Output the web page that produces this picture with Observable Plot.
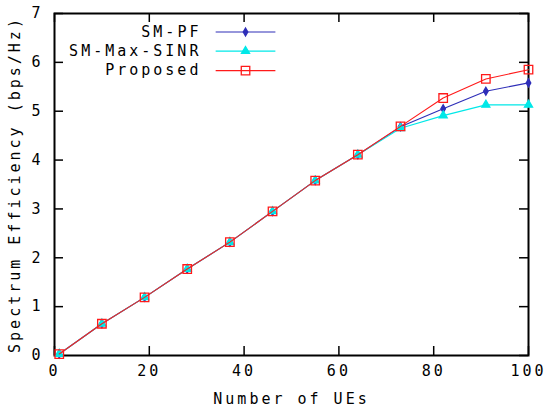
<!DOCTYPE html>
<html>
<head>
<meta charset="utf-8">
<script src="https://cdn.jsdelivr.net/npm/d3@7"></script>
<script src="https://cdn.jsdelivr.net/npm/@observablehq/plot@0.6"></script>
<style>
  html, body { margin: 0; padding: 0; background: #fff; }
</style>
</head>
<body>
<div id="chart"></div>
<script>
const ues = [1, 10, 19, 28, 37, 46, 55, 64, 73, 82, 91, 100];
const smPF      = [0.03, 0.65, 1.19, 1.77, 2.32, 2.95, 3.58, 4.11, 4.68, 5.05, 5.41, 5.58];
const smMaxSINR = [0.03, 0.65, 1.19, 1.77, 2.32, 2.95, 3.58, 4.11, 4.65, 4.91, 5.13, 5.13];
const proposed  = [0.03, 0.65, 1.19, 1.77, 2.32, 2.95, 3.58, 4.11, 4.69, 5.27, 5.66, 5.85];
const seriesNames = ["SM-PF", "SM-Max-SINR", "Proposed"];
const xTicks = [0, 20, 40, 60, 80, 100];
const yTicks = [0, 1, 2, 3, 4, 5, 6, 7];
const xLabel = "Number of UEs";
const yLabel = "Spectrum Efficiency (bps/Hz)";

const colors = {"SM-PF": "#2e2eb8", "SM-Max-SINR": "#00e8e8", "Proposed": "#ff1a1a"};
const symbols = {"SM-PF": "diamond", "SM-Max-SINR": "triangle", "Proposed": "square"};
const sizes = {"SM-PF": 2.4, "SM-Max-SINR": 3.0, "Proposed": 4.8};
const fills = {"SM-PF": "#2e2eb8", "SM-Max-SINR": "#00e8e8", "Proposed": "none"};

const values = [smPF, smMaxSINR, proposed];
const data = [];
seriesNames.forEach((s, i) => ues.forEach((u, j) => data.push({series: s, x: u, y: values[i][j]})));

// legend rows placed in data space
const legendY = [6.62, 6.23, 5.83];
const legend = seriesNames.map((s, i) => ({series: s, y: legendY[i], xt: 31.0, x1: 34.0, x2: 46.6, xm: 40.3}));

const W = 553, H = 416, mL = 54, mR = 25, mT = 13, mB = 61;
const pw = W - mL - mR, ph = H - mT - mB, tick = 9;

const font = "font-family: 'DejaVu Sans Mono', monospace; font-size: 15px; letter-spacing: 3px;";

const marks = [
  // ticks on all four sides, inward
  Plot.tickX(xTicks, {x: d => d, insetTop: ph - tick, stroke: "#000", strokeWidth: 1.5}),
  Plot.tickX(xTicks, {x: d => d, insetBottom: ph - tick, stroke: "#000", strokeWidth: 1.5}),
  Plot.tickY(yTicks, {y: d => d, insetRight: pw - tick, stroke: "#000", strokeWidth: 1.5}),
  Plot.tickY(yTicks, {y: d => d, insetLeft: pw - tick, stroke: "#000", strokeWidth: 1.5}),
  Plot.frame({stroke: "#000", strokeWidth: 2}),
  // tick labels
  Plot.text(xTicks, {x: d => d, frameAnchor: "bottom", dy: 20, text: d => String(d), fill: "#000"}),
  Plot.text(yTicks, {y: d => d, frameAnchor: "left", textAnchor: "end", dx: -11, text: d => String(d), fill: "#000"}),
  // axis titles
  Plot.text([xLabel], {frameAnchor: "bottom", dy: 48, text: d => d, fill: "#000"}),
  Plot.text([yLabel], {frameAnchor: "left", textAnchor: "middle", dx: -39, rotate: -90, text: d => d, fill: "#000"}),
];

seriesNames.forEach(s => {
  const d = data.filter(r => r.series === s);
  const lg = legend.filter(r => r.series === s);
  marks.push(
    Plot.line(d, {x: "x", y: "y", stroke: colors[s], strokeWidth: 1.1}),
    Plot.dot(d, {x: "x", y: "y", symbol: symbols[s], r: sizes[s], stroke: colors[s], fill: fills[s], strokeWidth: 1.3}),
    Plot.link(lg, {x1: "x1", x2: "x2", y1: "y", y2: "y", stroke: colors[s], strokeWidth: 1.1}),
    Plot.dot(lg, {x: "xm", y: "y", symbol: symbols[s], r: sizes[s], stroke: colors[s], fill: fills[s], strokeWidth: 1.3}),
    Plot.text(lg, {x: "xt", y: "y", text: "series", textAnchor: "end", fill: "#000"})
  );
});

const chart = Plot.plot({
  width: W, height: H,
  marginLeft: mL, marginRight: mR, marginTop: mT, marginBottom: mB,
  x: {domain: [0, 100], axis: null},
  y: {domain: [0, 7], axis: null},
  style: font + " background: #fff; color: #000; overflow: visible;",
  marks
});
document.getElementById("chart").appendChild(chart);
</script>
</body>
</html>
